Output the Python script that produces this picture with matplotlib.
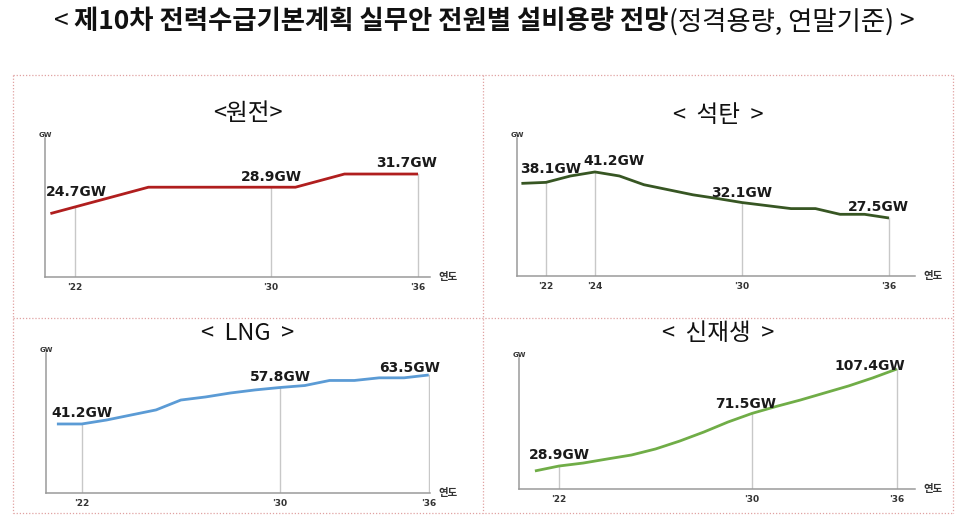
import matplotlib
matplotlib.use('Agg')
import matplotlib.pyplot as plt
from matplotlib.lines import Line2D

plt.rcParams['font.family'] = ['DejaVu Sans', 'Noto Sans CJK KR']

KR = ['Noto Sans CJK KR', 'DejaVu Sans']

years = list(range(2021, 2037))

# 설비용량 (GW), 연말기준
nuclear = [23.3, 24.7, 26.1, 27.5, 28.9, 28.9, 28.9, 28.9, 28.9, 28.9,
           28.9, 30.3, 31.7, 31.7, 31.7, 31.7]
coal = [37.8, 38.1, 40.0, 41.2, 40.0, 37.4, 35.9, 34.4, 33.3, 32.1,
        31.2, 30.3, 30.3, 28.6, 28.6, 27.5]
lng = [41.2, 41.2, 43.0, 45.3, 47.6, 52.1, 53.5, 55.3, 56.7, 57.8,
       58.7, 61.0, 61.0, 62.2, 62.2, 63.5]
renew = [24.9, 28.9, 31.3, 34.6, 37.8, 42.7, 49.1, 56.4, 64.5, 71.5,
         77.1, 82.3, 88.0, 93.7, 100.2, 107.4]

W, H = 970, 519


def fx(px):
    return px / W


def fy(py):
    return 1 - py / H


panels = [
    # title, values, color, axes box (px: left, top, right, bottom), limits,
    # labelled years, label offsets (px), tick years, title centre (px)
    dict(title='<원전>', values=nuclear, color='#B01E1E',
         box=(45, 138, 430, 277), xlim=(2020.78, 2036.49), ylim=(9.83, 39.35),
         marks=[2022, 2030, 2036], offs=[(-29, 15, 'left'), (0, 10, 'center'), (-11, 11, 'center')],
         ticks=[2022, 2030, 2036], tpos=(248, 113)),
    dict(title='<  석탄  >', values=coal, color='#375623',
         box=(517, 138, 915, 276), xlim=(2020.82, 2037.06), ylim=(10.25, 51.3),
         marks=[2022, 2024, 2030, 2036], offs=[(-26, 13, 'left'), (-12, 11, 'left'), (0, 10, 'center'), (-11, 11, 'center')],
         ticks=[2022, 2024, 2030, 2036], tpos=(718, 115)),
    dict(title='<  LNG  >', values=lng, color='#5B9BD5',
         box=(46, 353, 430, 493), xlim=(2020.56, 2036.05), ylim=(9.79, 73.5),
         marks=[2022, 2030, 2036], offs=[(0, 11, 'center'), (0, 11, 'center'), (-19, 7, 'center')],
         ticks=[2022, 2030, 2036], tpos=(248, 333)),
    dict(title='<  신재생  >', values=renew, color='#70AD47',
         box=(519, 358, 915, 489), xlim=(2020.34, 2036.75), ylim=(10.3, 116.3),
         marks=[2022, 2030, 2036], offs=[(0, 11, 'center'), (-6, 9, 'center'), (-27, 3, 'center')],
         ticks=[2022, 2030, 2036], tpos=(718, 333)),
]

fig = plt.figure(figsize=(W / 100, H / 100), dpi=100)
fig.patch.set_facecolor('white')

# dotted panel borders
bc = '#e0a2a2'
for (x0, y0, x1, y1) in [(13, 75, 953, 75), (13, 513, 953, 513), (13, 75, 13, 513),
                         (953, 75, 953, 513), (483, 75, 483, 513), (13, 318, 953, 318)]:
    fig.add_artist(Line2D([fx(x0), fx(x1)], [fy(y0), fy(y1)], color=bc,
                          linestyle=(0, (1, 1.5)), linewidth=0.9))

for p in panels:
    l, t, r, b = p['box']
    ax = fig.add_axes([fx(l), fy(b), (r - l) / W, (b - t) / H])
    ax.set_facecolor('none')
    ax.set_xlim(*p['xlim'])
    ax.set_ylim(*p['ylim'])
    for s in ['top', 'right']:
        ax.spines[s].set_visible(False)
    for s in ['left', 'bottom']:
        ax.spines[s].set_color('#9a9a9a')
        ax.spines[s].set_linewidth(1.1)
    ax.set_yticks([])
    ax.set_xticks(p['ticks'])
    ax.set_xticklabels(["'" + str(y)[2:] for y in p['ticks']], fontsize=6.5,
                       fontweight='bold', color='#333333')
    ax.tick_params(axis='x', length=0, pad=4)

    vals = p['values']
    for yr in p['marks']:
        v = vals[years.index(yr)]
        ax.plot([yr, yr], [p['ylim'][0], v], color='#c8c8c8', linewidth=1, zorder=1)
    ax.plot(years, vals, color=p['color'], linewidth=2, solid_capstyle='butt', zorder=3)

    for yr, (dx, dy, ha) in zip(p['marks'], p['offs']):
        v = vals[years.index(yr)]
        ax.annotate(f'{v:.1f}GW', (yr, v), xytext=(dx, dy), textcoords='offset pixels',
                    ha=ha, va='center', fontsize=10, fontweight='bold', color='#1a1a1a',
                    zorder=4)

    ax.text(0, 1, 'GW', transform=ax.transAxes, ha='center', va='bottom', fontsize=5,
            fontweight='bold', color='#333333')
    ax.annotate('연도', (1, 0), xycoords='axes fraction', xytext=(8, 0),
                textcoords='offset pixels', ha='left', va='center', fontsize=7.5,
                fontweight='bold', color='#333333', family=KR)

    fig.text(fx(p['tpos'][0]), fy(p['tpos'][1]), p['title'], ha='center', va='center',
             fontsize=17, family=KR, color='#111111')

# title with mixed weights
parts = [('< ', 'normal'), ('제10차 전력수급기본계획 실무안 전원별 설비용량 전망', 'bold'),
         ('(정격용량, 연말기준)', 'normal'), (' >', 'normal')]
fig.canvas.draw()
renderer = fig.canvas.get_renderer()
texts = []
x = 0
for s, w in parts:
    t = fig.text(x, fy(22), s, ha='left', va='center', fontsize=19, fontweight=w,
                 family=KR, color='#111111')
    bb = t.get_window_extent(renderer)
    texts.append((t, bb.width))
    x += bb.width / W
total = x
start = (fx(50) + fx(918)) / 2 - total / 2
x = start
for t, wd in texts:
    t.set_x(x)
    x += wd / W

fig.savefig('out.png', dpi=100, facecolor='white')
